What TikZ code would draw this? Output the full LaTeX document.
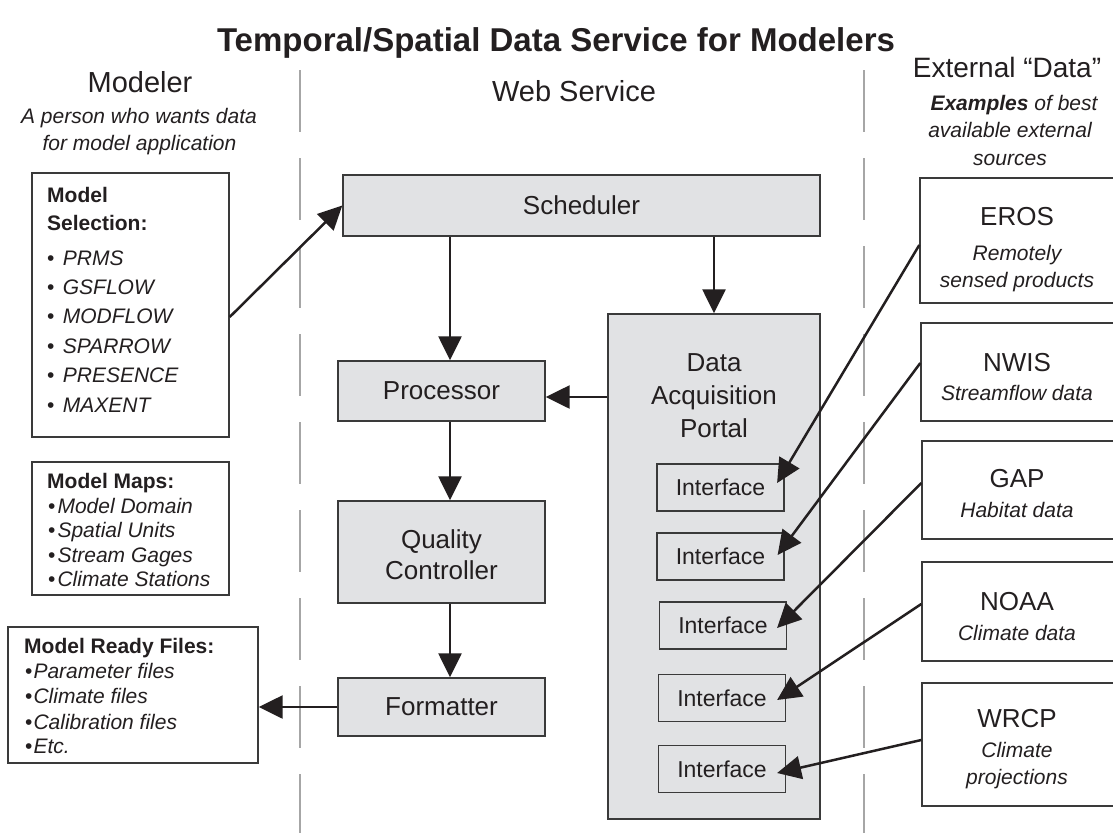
\documentclass[tikz,border=0pt]{standalone}
\usepackage{fontspec}
\setmainfont{Liberation Sans}
\usetikzlibrary{arrows.meta,calc}
\definecolor{ink}{HTML}{231F20}
\definecolor{boxgray}{HTML}{E1E2E4}
\definecolor{edge}{HTML}{3A3A3A}
\definecolor{dashgray}{HTML}{A6A6A6}
\newcommand\FS[1]{\fontsize{#1}{#1}\selectfont}
\begin{document}
\begin{tikzpicture}[x=1pt,y=-1pt,
 txt/.style={inner sep=0pt, anchor=base, text=ink},
 txtl/.style={inner sep=0pt, anchor=base west, text=ink},
 box/.style={draw=edge, line width=1.4pt, fill=boxgray, inner sep=0pt, text=ink, font=\FS{26}},
 wbox/.style={draw=edge, line width=1.4pt, fill=white, inner sep=0pt},
 ibox/.style={draw=edge, line width=1.2pt, fill=boxgray, inner sep=0pt, text=ink, font=\FS{23}, minimum width=127pt, minimum height=47pt},
 arr/.style={draw=ink, line width=2.5pt, -{Triangle[length=24pt,width=23pt]}},
 sep/.style={draw=dashgray, line width=1.3pt, dash pattern=on 62pt off 26pt},
 head/.style={txt, font=\FS{28}},
 sub/.style={txt, font=\itshape\FS{21}},
 lst/.style={txtl, font=\FS{21}},
 ehead/.style={txt, font=\FS{26}}]
\path[use as bounding box, fill=white] (0,0) rectangle (1113,833);

% column separators
\draw[sep] (300,70) -- (300,833);
\draw[sep] (864,70) -- (864,833);

% title and headers
\node[txt, font=\bfseries\FS{33}] (title) at (556,51) {Temporal/Spatial Data Service for Modelers};
\node[head, font=\FS{29}] (hmod) at (140,92) {Modeler};
\node[sub] (hmod1) at (139,123) {A person who wants data};
\node[sub] (hmod2) at (139.5,150) {for model application};
\node[head, font=\FS{29}] (hweb) at (574,101) {Web Service};
\node[head] (hext) at (1007,77) {External “Data”};
\node[sub] (hext1) at (1014,110) {\textbf{Examples} of best};
\node[sub] (hext2) at (1010,137) {available external};
\node[sub] (hext3) at (1010,165) {sources};

% web service boxes
\node[box, minimum width=477pt, minimum height=61pt] (sched) at (581.5,205.5) {Scheduler};
\node[box, minimum width=207pt, minimum height=60pt] (proc) at (441.5,391) {Processor};
\node[box, minimum width=207pt, minimum height=102pt] (qc) at (441.5,552) {};
\node[txt, font=\FS{26}] (qc1) at (441.5,548) {Quality};
\node[txt, font=\FS{26}] (qc2) at (441.5,579) {Controller};
\node[box, minimum width=207pt, minimum height=58pt] (fmt) at (441.5,707) {Formatter};
\node[box, minimum width=212pt, minimum height=505pt] (dap) at (714,566.5) {};
\node[txt, font=\FS{26}] (dap1) at (714,371) {Data};
\node[txt, font=\FS{26}] (dap2) at (714,404) {Acquisition};
\node[txt, font=\FS{26}] (dap3) at (714,437) {Portal};
\node[ibox] (i1) at (720.5,487.5) {Interface};
\node[ibox] (i2) at (720.5,556.5) {Interface};
\node[ibox] (i3) at (723,625.5) {Interface};
\node[ibox] (i4) at (722,698) {Interface};
\node[ibox] (i5) at (722,769) {Interface};

% modeler boxes
\node[wbox, minimum width=197pt, minimum height=264pt] (ms) at (130.5,305) {};
\node[lst, font=\bfseries\FS{21}] (ms0) at (47,202) {Model};
\node[lst, font=\bfseries\FS{21}] (ms00) at (47,230) {Selection:};
\foreach \t [count=\i from 0] in {PRMS,GSFLOW,MODFLOW,SPARROW,PRESENCE,MAXENT}{
  \node[lst] (msi\i) at (47,265+29.4*\i) {•\hspace{2.5pt} \textit{\t}};
}
\node[wbox, minimum width=197pt, minimum height=133pt] (mm) at (130.5,528.5) {};
\node[lst, font=\bfseries\FS{21}] (mm0) at (47,488) {Model Maps:};
\foreach \t/\y [count=\i] in {Model Domain/513,Spatial Units/537,Stream Gages/562,Climate Stations/586}{
  \node[lst] (mmi\i) at (48,\y) {•\hspace{2pt}\textit{\t}};
}
\node[wbox, minimum width=250pt, minimum height=136pt] (mrf) at (133,695) {};
\node[lst, font=\bfseries\FS{21}] (mrf0) at (24,653) {Model Ready Files:};
\foreach \t/\y [count=\i] in {Parameter files/678,Climate files/703,Calibration files/729,Etc./753}{
  \node[lst] (mrfi\i) at (25,\y) {•\hspace{1pt}\textit{\t}};
}

% external boxes
\node[wbox, minimum width=200pt, minimum height=125pt] (eros) at (1020,240.5) {};
\node[ehead] (eros0) at (1017,225) {EROS};
\node[sub] (eros1) at (1017,260) {Remotely};
\node[sub] (eros2) at (1017,287) {sensed products};
\node[wbox, minimum width=199pt, minimum height=98pt] (nwis) at (1020.5,372) {};
\node[ehead] (nwis0) at (1017,371) {NWIS};
\node[sub] (nwis1) at (1017,400) {Streamflow data};
\node[wbox, minimum width=198pt, minimum height=98pt] (gap) at (1021,490) {};
\node[ehead] (gap0) at (1017,487) {GAP};
\node[sub] (gap1) at (1017,517) {Habitat data};
\node[wbox, minimum width=198pt, minimum height=99pt] (noaa) at (1021,611.5) {};
\node[ehead] (noaa0) at (1017,610) {NOAA};
\node[sub] (noaa1) at (1017,640) {Climate data};
\node[wbox, minimum width=198pt, minimum height=123pt] (wrcp) at (1021,744.5) {};
\node[ehead] (wrcp0) at (1017,727) {WRCP};
\node[sub] (wrcp1) at (1017,757) {Climate};
\node[sub] (wrcp2) at (1017,784) {projections};

% connectors
\draw[arr] ([yshift=-12pt]ms.east) -- (sched.west);
\coordinate (pa) at ([xshift=8.5pt]proc.north);
\draw[arr] (sched.south -| pa) -- (pa);
\draw[arr] (sched.south -| dap.north) -- (dap.north);
\coordinate (pe) at ([yshift=-6pt]proc.east);
\draw[arr] (dap.west |- pe) -- (pe);
\coordinate (qa) at ([xshift=8.5pt]qc.north);
\draw[arr] (proc.south -| qa) -- (qa);
\coordinate (fa) at ([xshift=8.5pt]fmt.north);
\draw[arr] (qc.south -| fa) -- (fa);
\draw[arr] (fmt.west) -- (mrf.east |- fmt.west);

\draw[arr] ([yshift=-4.5pt]eros.west) -- ([xshift=-7.5pt,yshift=4.5pt]i1.east);
\draw[arr] ([yshift=9pt]nwis.west) -- ([xshift=-7pt,yshift=1.5pt]i2.east);
\draw[arr] ([yshift=7pt]gap.west) -- ([xshift=-10pt,yshift=-2.5pt]i3.east);
\draw[arr] ([yshift=7.5pt]noaa.west) -- ([xshift=-9pt,yshift=-2pt]i4.east);
\draw[arr] ([yshift=4.5pt]wrcp.west) -- ([xshift=-9pt,yshift=-4pt]i5.east);
\end{tikzpicture}
\end{document}
